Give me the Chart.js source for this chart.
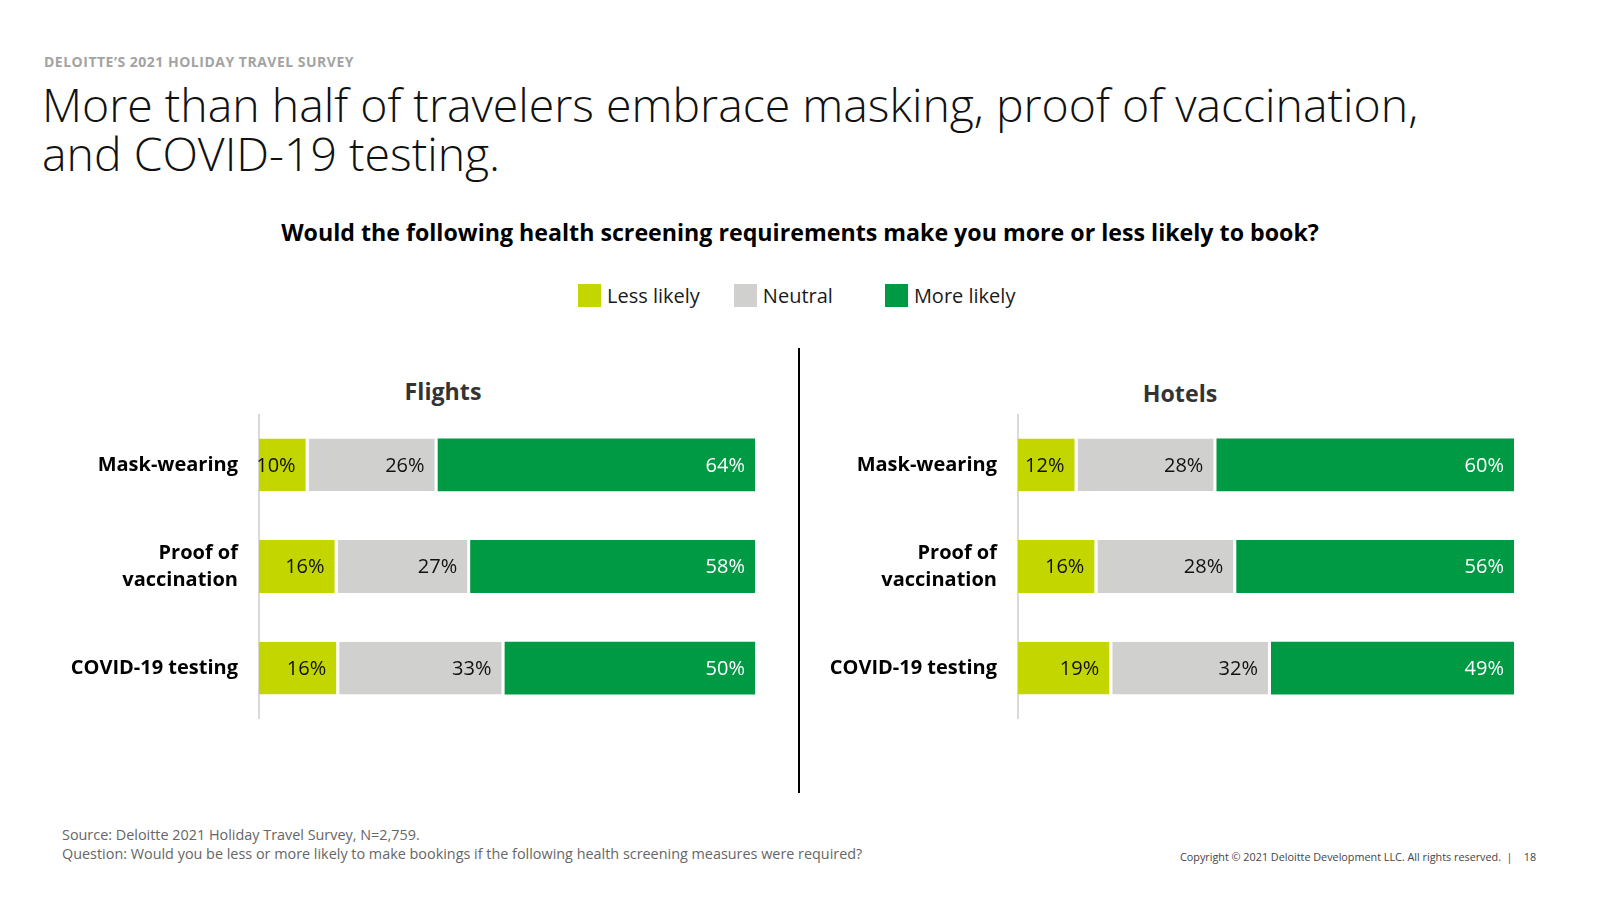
<!DOCTYPE html>
<html>
<head>
<meta charset="utf-8">
<script src="https://cdn.jsdelivr.net/npm/chart.js@4.4.1/dist/chart.umd.min.js"></script>
<style>
  html, body { margin: 0; padding: 0; background: #fff; }
  body { width: 1600px; height: 900px; position: relative; overflow: hidden; font-family: "Open Sans", "Noto Sans", sans-serif; }
  .abs { position: absolute; white-space: nowrap; }
  #kicker { left: 44px; top: 52px; font-size: 14px; font-weight: 700; color: #a3a3a3; letter-spacing: 0.5px; }
  #title { left: 42px; top: 80px; font-size: 46.4px; font-weight: 300; line-height: 49px; color: #111; }
  #question { left: 0; width: 1600px; text-align: center; top: 216px; font-size: 23.2px; font-weight: 700; color: #000; }
  #legend { top: 282px; left: 578px; display: flex; align-items: center; font-size: 20px; color: #1a1a1a; }
  .lg { display: flex; align-items: center; }
  .sw { width: 23px; height: 23px; margin-right: 6px; }
  .panelTitle { font-size: 23.2px; font-weight: 700; color: #333; transform: translateX(-50%); }
  #divider { left: 798px; top: 348px; width: 1.5px; height: 445px; background: #000; }
  .box { position: absolute; }
  #src { left: 62px; top: 826px; font-size: 14.4px; color: #666; line-height: 18.5px; }
  #copy { left: 1180px; top: 849px; font-size: 10.8px; color: #444; }
</style>
</head>
<body>
<div id="kicker" class="abs">DELOITTE’S 2021 HOLIDAY TRAVEL SURVEY</div>
<div id="title" class="abs">More than half of travelers embrace masking, proof of vaccination,<br>and COVID-19 testing.</div>
<div id="question" class="abs">Would the following health screening requirements make you more or less likely to book?</div>
<div id="legend" class="abs"></div>
<div class="abs panelTitle" style="left:443px; top:375px;">Flights</div>
<div class="abs panelTitle" style="left:1180px; top:377px;">Hotels</div>
<div id="divider" class="abs"></div>
<div class="box" style="left:40px; top:414px; width:715px; height:305px;"><canvas id="flights"></canvas></div>
<div class="box" style="left:799px; top:414px; width:715px; height:305px;"><canvas id="hotels"></canvas></div>
<div id="src" class="abs">Source: Deloitte 2021 Holiday Travel Survey, N=2,759.<br>Question: Would you be less or more likely to make bookings if the following health screening measures were required?</div>
<div id="copy" class="abs">Copyright © 2021 Deloitte Development LLC. All rights reserved. &nbsp;|&nbsp;&nbsp;&nbsp; 18</div>

<script>
// ---- Data ----
const categories = [['Mask-wearing'], ['Proof of', 'vaccination'], ['COVID-19 testing']];
const seriesNames = ['Less likely', 'Neutral', 'More likely'];
const seriesColors = ['#c4d600', '#d0d0ce', '#009a44'];
const labelColors = ['#111111', '#111111', '#ffffff'];

const flightsLess = [10, 16, 16];
const flightsNeutral = [26, 27, 33];
const flightsMore = [64, 58, 50];

const hotelsLess = [12, 16, 19];
const hotelsNeutral = [28, 28, 32];
const hotelsMore = [60, 56, 49];

// ---- Legend (HTML) ----
const legendEl = document.getElementById('legend');
const legendGaps = [34, 52, 0];
seriesNames.forEach((n, i) => {
  const item = document.createElement('div');
  item.className = 'lg';
  item.style.marginRight = legendGaps[i] + 'px';
  item.innerHTML = '<div class="sw" style="background:' + seriesColors[i] + '"></div><span>' + n + '</span>';
  legendEl.appendChild(item);
});

// ---- Segment labels plugin ----
const segLabels = {
  id: 'segLabels',
  afterDatasetsDraw(chart) {
    const ctx = chart.ctx;
    chart.data.datasets.forEach((ds, i) => {
      const meta = chart.getDatasetMeta(i);
      meta.data.forEach((bar, j) => {
        const gap = ds.gapRight || 0;
        ctx.save();
        ctx.font = '500 20px "Open Sans", "Noto Sans", sans-serif';
        ctx.fillStyle = ds.labelColor;
        ctx.textAlign = 'right';
        ctx.textBaseline = 'middle';
        ctx.fillText(ds.rawValues[j] + '%', bar.x - gap - 10, bar.y + 1);
        ctx.restore();
      });
    });
  }
};

function makeChart(id, less, neutral, more) {
  const raw = [less, neutral, more];
  const totals = categories.map((_, j) => less[j] + neutral[j] + more[j]);
  const datasets = raw.map((vals, i) => ({
    label: seriesNames[i],
    data: vals.map((v, j) => v / totals[j] * 100),
    rawValues: vals,
    labelColor: labelColors[i],
    backgroundColor: seriesColors[i],
    borderColor: '#ffffff',
    borderWidth: i < 2 ? { top: 0, bottom: 0, left: 0, right: 3 } : 0,
    borderSkipped: false,
    gapRight: i < 2 ? 3 : 0,
    barPercentage: 0.52,
    categoryPercentage: 1
  }));
  return new Chart(document.getElementById(id), {
    type: 'bar',
    data: { labels: categories, datasets },
    options: {
      indexAxis: 'y',
      responsive: true,
      maintainAspectRatio: false,
      animation: false,
      layout: { padding: 0 },
      plugins: { legend: { display: false }, tooltip: { enabled: false }, title: { display: false } },
      scales: {
        x: { stacked: true, min: 0, max: 100, display: false },
        y: {
          stacked: true,
          grid: { display: false, drawTicks: false },
          border: { display: true, color: '#d9d9d9', width: 2 },
          ticks: {
            padding: 21,
            color: '#000',
            font: { family: '"Open Sans", "Noto Sans", sans-serif', size: 20, weight: '700', lineHeight: 1.35 }
          },
          afterFit(scale) { scale.width = 219; scale.paddingTop = 0; scale.paddingBottom = 0; }
        }
      }
    },
    plugins: [segLabels]
  });
}

makeChart('flights', flightsLess, flightsNeutral, flightsMore);
makeChart('hotels', hotelsLess, hotelsNeutral, hotelsMore);
</script>
</body>
</html>
